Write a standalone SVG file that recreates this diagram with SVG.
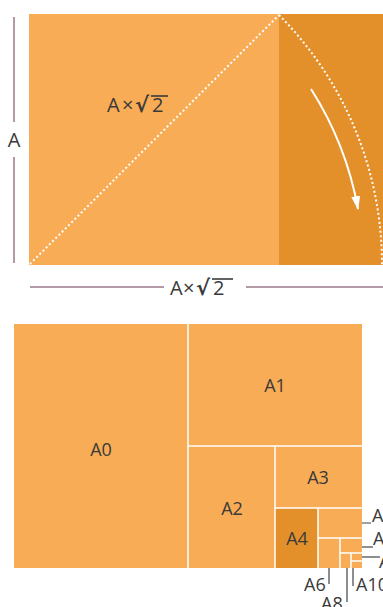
<svg xmlns="http://www.w3.org/2000/svg" width="383" height="607" viewBox="0 0 383 607">
<style>
.lt{fill:#F8AC55}
.dk{fill:#E3902B}
.div{stroke:#fff;stroke-width:1.5;fill:none}
.t{font-family:"Open Sans","Noto Sans",sans-serif;fill:#3a3a3a}
.r{font-family:"DejaVu Sans",sans-serif;fill:#3a3a3a}
.dim{stroke:#b49aa6;stroke-width:2;fill:none}
.call{stroke:#444;stroke-width:1.2;fill:none}
.dot{stroke:#fff;stroke-width:2;stroke-dasharray:2 2.5;fill:none}
.ov{stroke:#3a3a3a;stroke-width:1.6}
</style>
<defs>
<marker id="ah" markerWidth="14" markerHeight="9" refX="13" refY="4.5" orient="auto" markerUnits="userSpaceOnUse">
<path d="M0,0 L14,4.5 L0,9 Z" fill="#fff"/>
</marker>
</defs>
<g id="top-sheet">
<rect class="lt" x="29" y="14" width="250" height="251"/>
<rect class="dk" x="279" y="14" width="104" height="251"/>
</g>
<g id="connectors">
<line class="dot" x1="30" y1="264" x2="279" y2="15"/>
<path class="dot" d="M279,15 A354,354 0 0 1 382,265"/>
<path d="M311,89 A333,333 0 0 1 358,209" stroke="#fff" stroke-width="2" fill="none" marker-end="url(#ah)"/>
<line class="dim" x1="14" y1="17" x2="14" y2="122"/>
<line class="dim" x1="14" y1="157" x2="14" y2="263"/>
<line class="dim" x1="30" y1="287" x2="164" y2="287"/>
<line class="dim" x1="246" y1="287" x2="383" y2="287"/>
<line class="call" x1="338" y1="523" x2="371" y2="523"/>
<line class="call" x1="348" y1="547" x2="373" y2="547"/>
<line class="call" x1="357" y1="557" x2="380" y2="557"/>
<line class="call" x1="329" y1="558" x2="329" y2="584"/>
<line class="call" x1="347" y1="560" x2="347" y2="602"/>
<line class="call" x1="353" y1="565" x2="353" y2="586"/>
</g>
<g id="label-A">
<text class="t" x="14" y="147" font-size="20" text-anchor="middle">A</text>
</g>
<g id="label-diag">
<text class="t" x="107" y="112" font-size="20">A<tspan x="122">×</tspan></text>
<text class="r" x="135" y="112" font-size="21" font-weight="bold">√</text>
<text class="t" x="152" y="112" font-size="20">2</text>
<line class="ov" x1="151" y1="96" x2="168" y2="96"/>
</g>
<g id="label-width">
<text class="t" x="170" y="295" font-size="20">A<tspan x="183">×</tspan></text>
<text class="r" x="196" y="295" font-size="21" font-weight="bold">√</text>
<text class="t" x="213" y="295" font-size="20">2</text>
<line class="ov" x1="212" y1="279" x2="233" y2="279"/>
</g>
<g id="A0"><rect class="lt" x="14" y="324" width="174" height="244"/><text class="t" x="101" y="456" font-size="18" text-anchor="middle">A0</text></g>
<g id="A1"><rect class="lt" x="188" y="324" width="174" height="122"/><text class="t" x="275" y="392" font-size="18" text-anchor="middle">A1</text></g>
<g id="A2"><rect class="lt" x="188" y="446" width="87" height="122"/><text class="t" x="232" y="515" font-size="18" text-anchor="middle">A2</text></g>
<g id="A3"><rect class="lt" x="275" y="446" width="87" height="62"/><text class="t" x="318" y="484" font-size="18" text-anchor="middle">A3</text></g>
<g id="A4"><rect class="dk" x="275" y="508" width="43" height="60"/><text class="t" x="297" y="545" font-size="18" text-anchor="middle">A4</text></g>
<g id="A5"><rect class="lt" x="318" y="508" width="44" height="30"/><text class="t" x="372" y="522" font-size="18">A</text></g>
<g id="A6"><rect class="lt" x="318" y="538" width="22" height="30"/><text class="t" x="304" y="591" font-size="18">A6</text></g>
<g id="A7"><rect class="lt" x="340" y="538" width="22" height="15"/><text class="t" x="373" y="545" font-size="18">A</text></g>
<g id="A8"><rect class="lt" x="340" y="553" width="11" height="15"/><text class="t" x="321" y="610" font-size="18">A8</text></g>
<g id="A9"><rect class="lt" x="351" y="553" width="11" height="8"/><text class="t" x="379" y="568" font-size="18">A</text></g>
<g id="A10"><rect class="lt" x="351" y="561" width="11" height="7"/><text class="t" x="356" y="591" font-size="18">A10</text></g>
<g id="dividers">
<path class="div" d="M188,324 V568 M188,446 H362 M275,446 V568 M275,508 H362 M318,508 V568 M318,538 H362 M340,538 V568 M340,553 H362 M351,553 V568 M351,561 H362"/>
</g>
</svg>
